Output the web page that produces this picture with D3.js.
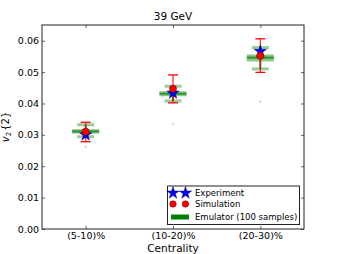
<!DOCTYPE html>
<meta charset="utf-8">
<script src="https://d3js.org/d3.v7.min.js"></script>
<style>
  body { margin: 0; background: #fff; }
  text { font-family: "DejaVu Sans", sans-serif; }
</style>
<div id="chart"></div>
<script>

// data
var categories = ["(5-10)%", "(10-20)%", "(20-30)%"];
var experiment = [0.0300, 0.0433, 0.0566];
var simulation = [0.0310, 0.0447, 0.0552];
var simErrLo = [0.0278, 0.0402, 0.0499];
var simErrHi = [0.0340, 0.0491, 0.0606];
var emuMedian = [0.0311, 0.0431, 0.0546];
var emuQ1 = [0.0304, 0.0423, 0.0534];
var emuQ3 = [0.0318, 0.0439, 0.0556];
var emuWhiskLo = [0.0294, 0.0408, 0.0510];
var emuWhiskHi = [0.0332, 0.0455, 0.0578];
var emuOutlier = [0.0262, 0.0334, 0.0406];
var yTicks = [0, 0.01, 0.02, 0.03, 0.04, 0.05, 0.06];

var margin = {top: 25, right: 34, bottom: 25, left: 42},
    width = 338 - margin.left - margin.right,
    height = 254 - margin.top - margin.bottom;

var svg = d3.select("#chart")
  .append("svg")
    .attr("width", 338)
    .attr("height", 254)
  .append("g")
    .attr("transform", "translate(" + margin.left + "," + margin.top + ")");

var x = d3.scaleLinear().domain([-0.5, 2.5]).range([0, width]);
var y = d3.scaleLinear().domain([0, 0.065]).range([height, 0]);

// axes, ticks pointing inward like matplotlib classic
svg.append("g")
  .attr("transform", "translate(0," + height + ")")
  .call(d3.axisBottom(x).tickValues([0, 1, 2]).tickFormat(function(d) { return categories[d]; })
    .tickSizeInner(-3).tickSizeOuter(0).tickPadding(3.5))
  .call(function(g) { g.select(".domain").remove(); })
  .selectAll("text").attr("font-size", "9.5px").attr("font-family", "DejaVu Sans").attr("fill", "#000");

svg.append("g")
  .call(d3.axisTop(x).tickValues([0, 1, 2]).tickFormat("").tickSizeInner(-3).tickSizeOuter(0))
  .call(function(g) { g.select(".domain").remove(); });

svg.append("g")
  .call(d3.axisLeft(y).tickValues(yTicks).tickFormat(d3.format(".2f"))
    .tickSizeInner(-3).tickSizeOuter(0).tickPadding(3))
  .call(function(g) { g.select(".domain").remove(); })
  .selectAll("text").attr("font-size", "9.5px").attr("font-family", "DejaVu Sans").attr("fill", "#000");

svg.append("g")
  .attr("transform", "translate(" + width + ",0)")
  .call(d3.axisRight(y).tickValues(yTicks).tickFormat("").tickSizeInner(-3).tickSizeOuter(0))
  .call(function(g) { g.select(".domain").remove(); });

svg.selectAll(".tick line").attr("stroke", "#666");

// emulator boxes
var emu = svg.append("g");
categories.forEach(function(c, i) {
  var cx = x(i);
  // whisker line
  emu.append("line")
    .attr("x1", cx).attr("x2", cx)
    .attr("y1", y(emuWhiskLo[i])).attr("y2", y(emuWhiskHi[i]))
    .attr("stroke", "green").attr("stroke-width", 2).attr("opacity", 0.8);
  // whisker caps
  [emuWhiskLo[i], emuWhiskHi[i]].forEach(function(v) {
    emu.append("rect")
      .attr("x", cx - 8.5).attr("width", 17)
      .attr("y", y(v) - 1.5).attr("height", 3)
      .attr("fill", "green").attr("opacity", 0.4);
  });
  // box
  emu.append("rect")
    .attr("x", cx - 13.5).attr("width", 27)
    .attr("y", y(emuQ3[i])).attr("height", y(emuQ1[i]) - y(emuQ3[i]))
    .attr("fill", "green").attr("opacity", 0.45);
  emu.append("rect")
    .attr("x", cx - 13.5).attr("width", 27)
    .attr("y", y(emuMedian[i]) - 1).attr("height", 2)
    .attr("fill", "green").attr("opacity", 0.7);
  // outlier
  emu.append("circle")
    .attr("cx", cx).attr("cy", y(emuOutlier[i])).attr("r", 0.8)
    .attr("fill", "green").attr("opacity", 0.5);
});

// simulation error bars
var err = svg.append("g").attr("stroke", "red").attr("stroke-width", 1.3);
categories.forEach(function(c, i) {
  var cx = x(i);
  err.append("line").attr("x1", cx).attr("x2", cx)
    .attr("y1", y(simErrLo[i])).attr("y2", y(simErrHi[i])).attr("opacity", 0.8);
  [simErrLo[i], simErrHi[i]].forEach(function(v) {
    err.append("line").attr("x1", cx - 5).attr("x2", cx + 5)
      .attr("y1", y(v)).attr("y2", y(v));
  });
});

var star = d3.symbol().type(d3.symbolStar).size(48);

// experiment stars
svg.selectAll(".exp")
  .data(experiment)
  .enter().append("path")
    .attr("class", "exp")
    .attr("d", star)
    .attr("transform", function(d, i) { return "translate(" + x(i) + "," + y(d) + ")"; })
    .attr("fill", "blue").attr("stroke", "#000033").attr("stroke-width", 0.4);

// simulation circles
svg.selectAll(".sim")
  .data(simulation)
  .enter().append("circle")
    .attr("class", "sim")
    .attr("cx", function(d, i) { return x(i); })
    .attr("cy", function(d) { return y(d); })
    .attr("r", 3.6)
    .attr("fill", "red").attr("stroke", "#330000").attr("stroke-width", 0.4);

// frame
svg.append("rect")
  .attr("width", width).attr("height", height)
  .attr("fill", "none").attr("stroke", "#222").attr("stroke-width", 1);

// title and labels
svg.append("text")
  .attr("x", width / 2).attr("y", -5)
  .attr("text-anchor", "middle").attr("font-size", "10.5px")
  .text("39 GeV");

svg.append("text")
  .attr("x", width / 2).attr("y", height + 22.5)
  .attr("text-anchor", "middle").attr("font-size", "10.5px")
  .text("Centrality");

var ylab = svg.append("text")
  .attr("transform", "translate(" + (-33) + "," + (height / 2 - 0) + ") rotate(-90)")
  .attr("text-anchor", "middle")
  .attr("font-family", "DejaVu Serif")
  .attr("font-size", "10px");
ylab.append("tspan").attr("font-style", "italic").text("v");
ylab.append("tspan").attr("font-size", "7px").attr("dy", 2).text("2");
ylab.append("tspan").attr("dy", -2).attr("dx", 1).text("{2}");

// legend
var legend = svg.append("g")
  .attr("transform", "translate(" + (x(1) - 5.5) + "," + (y(0.0137)) + ")");
legend.append("rect")
  .attr("width", 132).attr("height", 38.5)
  .attr("fill", "#fff").attr("stroke", "#222").attr("stroke-width", 1);

var items = ["Experiment", "Simulation", "Emulator (100 samples)"];
var rowY = [7, 18, 31];
[5.5, 18].forEach(function(mx) {
  legend.append("path").attr("d", star)
    .attr("transform", "translate(" + mx + "," + rowY[0] + ")")
    .attr("fill", "blue").attr("stroke", "#000033").attr("stroke-width", 0.4);
  legend.append("circle").attr("cx", mx).attr("cy", rowY[1]).attr("r", 3.3)
    .attr("fill", "red").attr("stroke", "#330000").attr("stroke-width", 0.4);
});
legend.append("rect")
  .attr("x", 3.5).attr("y", rowY[2] - 2.5).attr("width", 18).attr("height", 5)
  .attr("fill", "green");
legend.selectAll(".ltxt")
  .data(items)
  .enter().append("text")
    .attr("class", "ltxt")
    .attr("x", 27.5)
    .attr("y", function(d, i) { return rowY[i] + 3; })
    .attr("font-size", "8.5px")
    .text(function(d) { return d; });

</script>
